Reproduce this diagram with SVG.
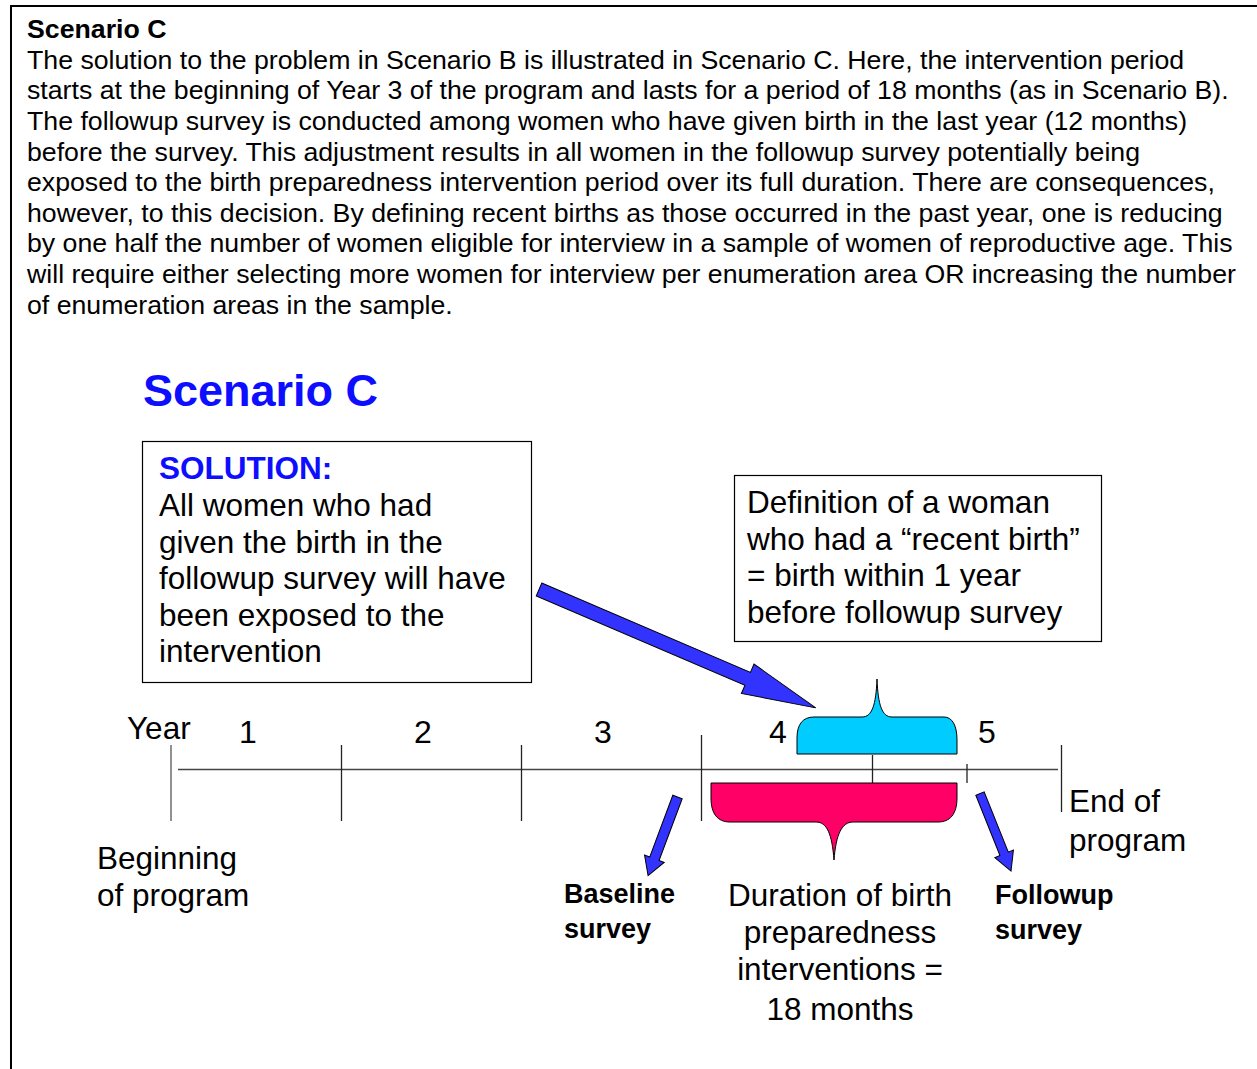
<svg xmlns="http://www.w3.org/2000/svg" width="1257" height="1069" viewBox="0 0 1257 1069">
<style>
text{font-family:"Liberation Sans",Arial,Helvetica,sans-serif;fill:#000}
.hd{font-size:26.7px}
.hb{font-size:26.7px;font-weight:bold}
.body{font-size:31.5px}
.bold{font-size:27px;font-weight:bold}
.num{font-size:32px}
.box{fill:#fff;stroke:#000;stroke-width:1.2}
.tick{stroke:#222;stroke-width:1.3;fill:none}
.arrow{fill:#3333ff;stroke:#000;stroke-width:1}
</style>
<rect width="1257" height="1069" fill="#fff"/>
<path d="M11,1069 V6 H1257" fill="none" stroke="#000" stroke-width="2"/>
<g id="intro">
<text class="hb" x="27" y="38">Scenario C</text>
<text class="hd" x="27" y="68.8">The solution to the problem in Scenario B is illustrated in Scenario C. Here, the intervention period</text>
<text class="hd" x="27" y="99.4">starts at the beginning of Year 3 of the program and lasts for a period of 18 months (as in Scenario B).</text>
<text class="hd" x="27" y="130">The followup survey is conducted among women who have given birth in the last year (12 months)</text>
<text class="hd" x="27" y="160.6">before the survey. This adjustment results in all women in the followup survey potentially being</text>
<text class="hd" x="27" y="191.2">exposed to the birth preparedness intervention period over its full duration. There are consequences,</text>
<text class="hd" x="27" y="221.8">however, to this decision. By defining recent births as those occurred in the past year, one is reducing</text>
<text class="hd" x="27" y="252.4">by one half the number of women eligible for interview in a sample of women of reproductive age. This</text>
<text class="hd" x="27" y="283">will require either selecting more women for interview per enumeration area OR increasing the number</text>
<text class="hd" x="27" y="313.6">of enumeration areas in the sample.</text>
</g>
<g id="title">
<text x="143" y="406" style="font-size:45px;font-weight:bold;fill:#0d0dff">Scenario C</text>
</g>
<g id="solution-box">
<rect class="box" x="142.5" y="441.5" width="389" height="241"/>
<text x="159" y="479" style="font-size:31.5px;font-weight:bold;fill:#0d0dff">SOLUTION:</text>
<text class="body" x="159" y="516">All women who had</text>
<text class="body" x="159" y="552.5">given the birth in the</text>
<text class="body" x="159" y="589">followup survey will have</text>
<text class="body" x="159" y="625.5">been exposed to the</text>
<text class="body" x="159" y="662">intervention</text>
</g>
<g id="definition-box">
<rect class="box" x="734.5" y="475.5" width="367" height="166"/>
<text class="body" x="747" y="513">Definition of a woman</text>
<text class="body" x="747" y="549.5">who had a “recent birth”</text>
<text class="body" x="747" y="586">= birth within 1 year</text>
<text class="body" x="747" y="622.5">before followup survey</text>
</g>
<g id="timeline">
<line class="tick" x1="178" y1="769.5" x2="1058" y2="769.5" style="stroke:#444"/>
<line class="tick" x1="171" y1="745" x2="171" y2="821" style="stroke:#555"/>
<line class="tick" x1="341.5" y1="745" x2="341.5" y2="821"/>
<line class="tick" x1="521.5" y1="745" x2="521.5" y2="821"/>
<line class="tick" x1="701.5" y1="735" x2="701.5" y2="821"/>
<line class="tick" x1="872.5" y1="755" x2="872.5" y2="783"/>
<line class="tick" x1="967" y1="764" x2="967" y2="783"/>
<line class="tick" x1="1061.5" y1="745" x2="1061.5" y2="812"/>
<text class="body" x="127" y="739">Year</text>
<text class="num" x="248" y="743" text-anchor="middle">1</text>
<text class="num" x="423" y="743" text-anchor="middle">2</text>
<text class="num" x="603" y="743" text-anchor="middle">3</text>
<text class="num" x="778" y="743" text-anchor="middle">4</text>
<text class="num" x="987" y="743" text-anchor="middle">5</text>
</g>
<g id="recent-birth-brace">
<path d="M797,754 L797,738 C797,724 803,717 814,717 L862,717 C872,717 876,705 877,679 C878,705 882,717 892,717 L944,717 C952,717 957,725 957,740 L957,754 Z" fill="#00ccff" stroke="#000" stroke-width="1"/>
</g>
<g id="intervention-brace">
<path d="M711,783 L957,783 L957,798 C957,814 950,822 938,822 L853,822 C842,822 836,834 834,860 C832,834 827,822 816,822 L730,822 C717,822 711,813 711,798 Z" fill="#ff0066" stroke="#000" stroke-width="1"/>
</g>
<g id="labels">
<text class="body" x="97" y="869">Beginning</text>
<text class="body" x="97" y="905.5">of program</text>
<text class="body" x="1069" y="812">End of</text>
<text class="body" x="1069" y="851">program</text>
<text class="bold" x="564" y="903">Baseline</text>
<text class="bold" x="564" y="938">survey</text>
<text class="bold" x="995" y="904">Followup</text>
<text class="bold" x="995" y="939">survey</text>
<text class="body" x="840" y="906" text-anchor="middle">Duration of birth</text>
<text class="body" x="840" y="943" text-anchor="middle">preparedness</text>
<text class="body" x="840" y="980" text-anchor="middle">interventions =</text>
<text class="body" x="840" y="1020" text-anchor="middle">18 months</text>
</g>
<g id="connectors">
<polygon class="arrow" transform="translate(539,589.5) rotate(23.16)" points="0,-7 227,-7 227,-16 301,0 227,16 227,7 0,7"/>
<polygon class="arrow" transform="translate(677.5,797) rotate(110.5)" points="0,-5 66,-5 66,-10.5 84,0 66,10.5 66,5 0,5"/>
<polygon class="arrow" transform="translate(980,793.5) rotate(68.2)" points="0,-4.5 65,-4.5 65,-10 83.5,0 65,10 65,4.5 0,4.5"/>
</g>
</svg>
